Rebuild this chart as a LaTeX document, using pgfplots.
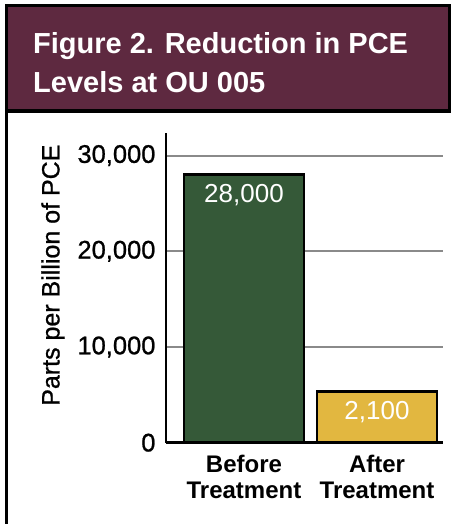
\documentclass[border=0pt]{standalone}
\usepackage{pgfplots}
\pgfplotsset{compat=1.18}
\usepackage{fontspec}
\setmainfont{Liberation Sans}
\newfontfamily\medfont[FakeBold=0.9]{Liberation Sans}
\definecolor{maroon}{RGB}{94,41,64}
\definecolor{bargreen}{RGB}{53,89,56}
\definecolor{baryellow}{RGB}{226,183,64}
\definecolor{gridgray}{RGB}{138,138,138}
\begin{document}
\begin{tikzpicture}[x=1pt,y=1pt]
\path[use as bounding box] (0,0) rectangle (451,-524);
% header box
\fill[maroon] (6.5,-5.5) rectangle (449,-110.8);
\draw[black,line width=3pt] (6.5,-524) -- (6.5,-5.5) -- (449,-5.5) -- (449,-110.8);
\draw[black,line width=3.5pt] (5,-110.8) -- (450.5,-110.8);
\node[anchor=base west,inner sep=0pt,text=white,font=\fontsize{29}{39}\bfseries\selectfont] at (33,-53.5) {Figure 2. Reduction in PCE};
\node[anchor=base west,inner sep=0pt,text=white,font=\fontsize{29}{39}\bfseries\selectfont] at (33,-92.5) {Levels at OU 005};
\begin{axis}[
  at={(166pt,-442.7pt)}, anchor=south west,
  scale only axis, width=277pt, height=309.7pt,
  xmin=-0.586, xmax=1.496, ymin=0, ymax=32360,
  axis x line=bottom, axis y line=left,
  axis line style={-, line width=2.5pt, black},
  ybar, bar width=120pt,
  xtick={0,1},
  xticklabels={Before\\Treatment, After\\Treatment},
  xticklabel style={align=center, font=\fontsize{24}{26.5}\bfseries\selectfont, yshift=-8.5pt},
  ytick={0,10000,20000,30000},
  /pgf/number format/assume math mode=true,
  /pgf/number format/1000 sep={,},
  scaled y ticks=false,
  yticklabel style={font=\fontsize{25.5}{30}\medfont, xshift=-7pt},
  major tick length=0pt,
  ymajorgrids, grid style={gridgray, line width=2pt},
  ylabel={Parts per Billion of PCE},
  every axis y label/.style={at={(axis description cs:-0.408,0.541)}, rotate=90, anchor=center, font=\fontsize{25}{30}\medfont},
  nodes near coords,
  point meta=explicit symbolic,
  every node near coord/.append style={anchor=north, yshift=-5pt, text=white, font=\fontsize{26}{30}\selectfont},
]
\addplot[bar shift=0pt, fill=bargreen, draw=black, line width=2.5pt] coordinates {(0,28000) [{28,000}]};
\addplot[bar shift=0pt, fill=baryellow, draw=black, line width=2.5pt] coordinates {(1,5330) [{2,100}]};
\end{axis}
\end{tikzpicture}
\end{document}
